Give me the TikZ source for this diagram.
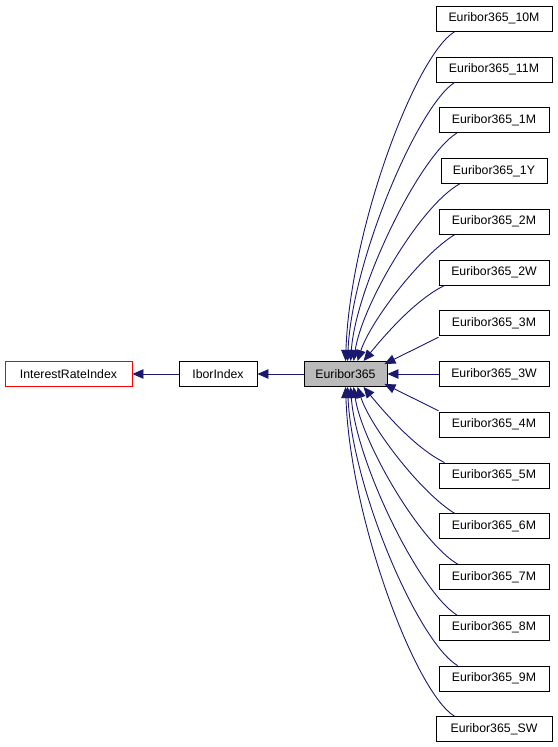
\documentclass[tikz,border=0pt]{standalone}
\usepackage{fontspec}
\setmainfont{Liberation Sans}
\usetikzlibrary{arrows.meta}
\definecolor{edgeblue}{HTML}{191970}
\tikzset{
  box/.style={draw=black, line width=0.9pt, minimum height=25pt, inner sep=0pt, font=\fontsize{12.3}{14}\selectfont, text=black},
  edge/.style={draw=edgeblue, line width=0.9pt, -{Triangle[length=11pt,width=9.5pt]}},
}
\begin{document}
\begin{tikzpicture}[x=1pt,y=-1pt]
\useasboundingbox (0,0) rectangle (557,747);
\node[box, draw=red, minimum width=127pt] (iri) at (68.5,374) {InterestRateIndex};
\node[box, minimum width=78pt] (ibor) at (218,374) {IborIndex};
\node[box, fill=black!27, minimum width=83pt] (eur) at (345.5,374) {Euribor365};
\def\cx{494}
\node[box, minimum width=116pt] (c10M) at (\cx,18.75) {Euribor365\_10M};
\node[box, minimum width=116pt] (c11M) at (\cx,69.5) {Euribor365\_11M};
\node[box, minimum width=110pt] (c1M) at (\cx,120.25) {Euribor365\_1M};
\node[box, minimum width=106pt] (c1Y) at (\cx,171) {Euribor365\_1Y};
\node[box, minimum width=110pt] (c2M) at (\cx,221.75) {Euribor365\_2M};
\node[box, minimum width=110pt] (c2W) at (\cx,272.5) {Euribor365\_2W};
\node[box, minimum width=110pt] (c3M) at (\cx,323.25) {Euribor365\_3M};
\node[box, minimum width=110pt] (c3W) at (\cx,374) {Euribor365\_3W};
\node[box, minimum width=110pt] (c4M) at (\cx,424.75) {Euribor365\_4M};
\node[box, minimum width=110pt] (c5M) at (\cx,475.5) {Euribor365\_5M};
\node[box, minimum width=110pt] (c6M) at (\cx,526.25) {Euribor365\_6M};
\node[box, minimum width=110pt] (c7M) at (\cx,577) {Euribor365\_7M};
\node[box, minimum width=110pt] (c8M) at (\cx,627.75) {Euribor365\_8M};
\node[box, minimum width=110pt] (c9M) at (\cx,678.5) {Euribor365\_9M};
\node[box, minimum width=116pt] (cSW) at (\cx,729.25) {Euribor365\_SW};
% main chain
\draw[edge] (ibor.west) -- (iri.east);
\draw[edge] (eur.west) -- (ibor.east);
% upper children
\draw[edge] ([xshift=19pt]c10M.south west) .. controls (415,56) and (350,230) .. ([xshift=42pt]eur.north west);
\draw[edge] ([xshift=19pt]c11M.south west) .. controls (418,106) and (352,260) .. ([xshift=44pt]eur.north west);
\draw[edge] ([xshift=18pt]c1M.south west) .. controls (420,156) and (356,285) .. ([xshift=47pt]eur.north west);
\draw[edge] ([xshift=19pt]c1Y.south west) .. controls (420,206) and (362,305) .. ([xshift=50pt]eur.north west);
\draw[edge] ([xshift=16pt]c2M.south west) .. controls (420,256) and (370,322) .. ([xshift=54pt]eur.north west);
\draw[edge] ([xshift=6pt]c2W.south west) .. controls (415,300) and (385,335) .. ([xshift=60pt]eur.north west);
\draw[edge] ([yshift=-1pt]c3M.south west) -- ([xshift=-3pt,yshift=-3pt]eur.north east);
\draw[edge] (c3W.west) -- (eur.east);
% lower children
\draw[edge] ([yshift=1pt]c4M.north west) -- ([xshift=-3pt,yshift=3pt]eur.south east);
\draw[edge] ([xshift=6pt]c5M.north west) .. controls (415,448) and (385,413) .. ([xshift=60pt]eur.south west);
\draw[edge] ([xshift=16pt]c6M.north west) .. controls (420,492) and (370,426) .. ([xshift=54pt]eur.south west);
\draw[edge] ([xshift=19pt]c7M.north west) .. controls (420,542) and (362,443) .. ([xshift=50pt]eur.south west);
\draw[edge] ([xshift=18pt]c8M.north west) .. controls (420,592) and (356,463) .. ([xshift=47pt]eur.south west);
\draw[edge] ([xshift=19pt]c9M.north west) .. controls (418,642) and (352,488) .. ([xshift=44pt]eur.south west);
\draw[edge] ([xshift=19pt]cSW.north west) .. controls (415,692) and (350,518) .. ([xshift=42pt]eur.south west);
\end{tikzpicture}
\end{document}
